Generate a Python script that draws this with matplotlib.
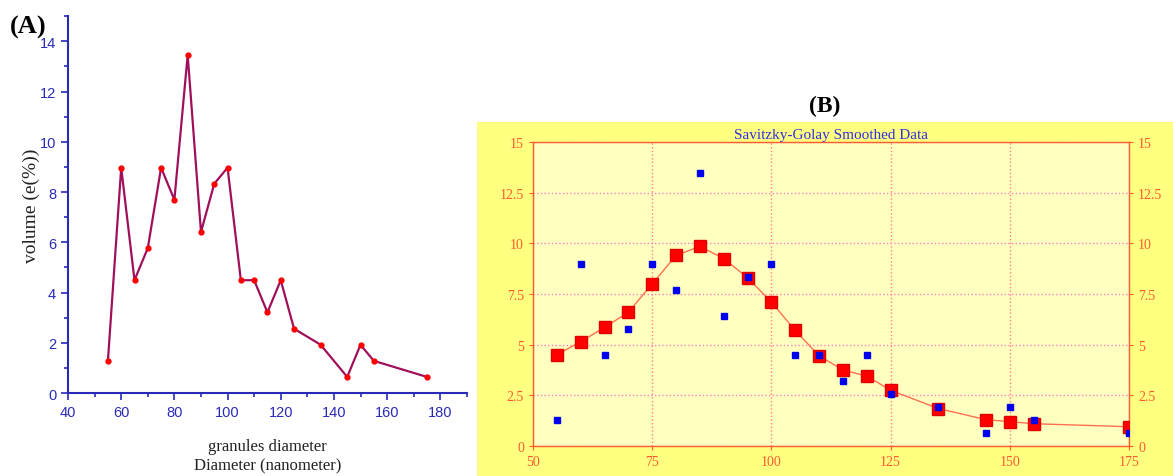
import numpy as np
import matplotlib
matplotlib.use("Agg")
import matplotlib.pyplot as plt
from matplotlib.patches import Rectangle
from matplotlib.ticker import MultipleLocator

# data
diametro = [55, 60, 65, 70, 75, 80, 85, 90, 95, 100, 105, 110, 115, 120, 125, 135, 145, 150, 155, 175]
volume = [1.28, 8.97, 4.49, 5.77, 8.97, 7.69, 13.46, 6.41, 8.33, 8.97, 4.49, 4.49, 3.21, 4.49,
          2.56, 1.92, 0.64, 1.92, 1.28, 0.64]
suavizado = [4.5, 5.15, 5.85, 6.6, 8.0, 9.4, 9.85, 9.25, 8.3, 7.1, 5.7, 4.45, 3.75, 3.45,
             2.75, 1.85, 1.3, 1.2, 1.1, 0.95]

fig = plt.figure(figsize=(11.73, 4.77), dpi=100)

# ---- (A)
azul = "#2a2ab8"
ax1 = fig.add_axes([0.058, 0.174, 0.340, 0.790])
ax1.plot(diametro, volume, color="#a0105a", lw=1.6, zorder=2)
ax1.plot(diametro, volume, "o", color="red", ms=3.5, zorder=3)
ax1.set_xlim(40, 190)
ax1.set_ylim(0, 15)
ax1.set_xticks(range(40, 181, 20))
ax1.set_yticks(range(0, 15, 2))
ax1.xaxis.set_minor_locator(MultipleLocator(10))
ax1.yaxis.set_minor_locator(MultipleLocator(1))
for s in ["top", "right"]:
    ax1.spines[s].set_visible(False)
for s in ["left", "bottom"]:
    ax1.spines[s].set_color(azul)
    ax1.spines[s].set_linewidth(1.5)
ax1.tick_params(which="both", direction="out", color=azul, width=1.2, labelcolor=azul,
                labelsize=10.5)
ax1.tick_params(which="major", length=5)
ax1.tick_params(which="minor", length=3)
for t in ax1.get_xticklabels() + ax1.get_yticklabels():
    t.set_family("Liberation Sans")
ax1.set_ylabel("volume (e(%))", family="Liberation Serif", fontsize=14, color="#222222")
ax1.yaxis.set_label_coords(-0.07, 0.5)
ax1.set_xlabel("granules diameter\nDiameter (nanometer)", family="Liberation Serif",
               fontsize=12, color="#222222", labelpad=14, linespacing=1.3)
fig.text(0.008, 0.93, "(A)", family="Liberation Serif", weight="bold", fontsize=19)

# ---- (B)
fig.patches.append(Rectangle((0.4066, 0), 0.5934, 0.742, transform=fig.transFigure,
                             facecolor="#ffff80", edgecolor="none", zorder=-5))
naranja = "#ff5a30"
ax2 = fig.add_axes([0.4544, 0.0629, 0.5081, 0.6373])
ax2.set_facecolor("#ffffc0")
ax2.plot(diametro, suavizado, color="#ff7050", lw=1.0, zorder=2)
ax2.plot(diametro, suavizado, "s", color="red", mec="#e00000", ms=8, zorder=3)
ax2.plot(diametro, volume, "s", color="#0000ee", ms=4.5, zorder=4)
ax2.set_xlim(50, 175)
ax2.set_ylim(0, 15)
ax2.set_xticks([50, 75, 100, 125, 150, 175])
ax2.set_yticks([0, 2.5, 5, 7.5, 10, 12.5, 15])
ax2.set_yticklabels(["0", "2.5", "5", "7.5", "10", "12.5", "15"])
ax2.grid(axis="y", color="#ff80c0", ls=":", lw=1.0)
ax2.grid(axis="x", color="#ff8080", ls=":", lw=1.0)
for s in ax2.spines.values():
    s.set_color(naranja)
    s.set_linewidth(1.0)
ax2.tick_params(direction="out", length=3, color=naranja, labelcolor=naranja,
                labelsize=10, right=True, labelright=True)
for t in ax2.get_xticklabels() + ax2.yaxis.get_ticklabels(which="major"):
    t.set_family("Liberation Serif")
for t in ax2.yaxis.get_majorticklabels():
    t.set_family("Liberation Serif")
ax2.set_title("Savitzky-Golay Smoothed Data", family="Liberation Serif", fontsize=11,
              color="#3030e0", pad=3)
fig.text(0.690, 0.765, "(B)", family="Liberation Serif", weight="bold", fontsize=17)

fig.savefig("out.png", dpi=100)
